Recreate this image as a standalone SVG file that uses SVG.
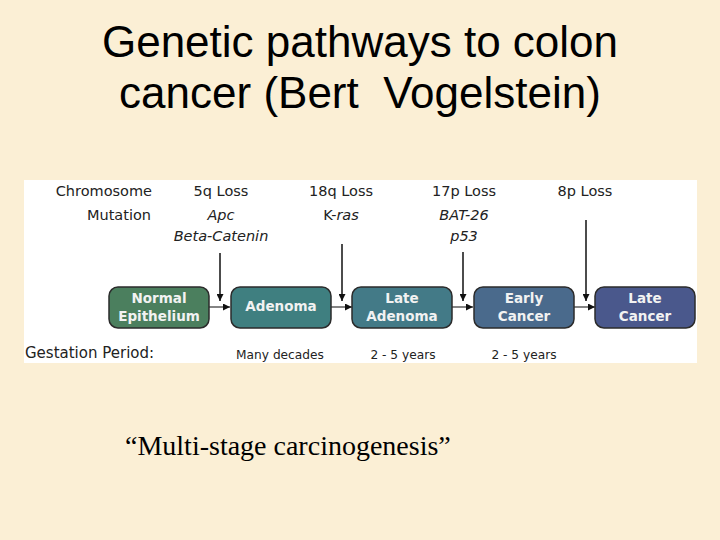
<svg xmlns="http://www.w3.org/2000/svg" width="720" height="540" viewBox="0 0 720 540">
<defs>
<marker id="ah" viewBox="0 0 10 10" refX="10" refY="5" markerWidth="7" markerHeight="7" markerUnits="userSpaceOnUse" orient="auto"><path d="M0,0 L10,5 L0,10 z" fill="#111"/></marker>
</defs>
<style>
.title{font-family:"Liberation Sans",Arial,sans-serif;font-size:44px;fill:#000;text-anchor:middle;white-space:pre}
.lab{font-family:"DejaVu Sans",Verdana,sans-serif;font-size:14.5px;fill:#222}
.it{font-style:italic}
.mid{text-anchor:middle}
.end{text-anchor:end}
.box{stroke:#2b2b2b;stroke-width:1.5}
.bt{font-family:"DejaVu Sans",Verdana,sans-serif;font-size:13.5px;font-weight:bold;fill:#f2f2f2;text-anchor:middle}
.small{font-family:"DejaVu Sans",Verdana,sans-serif;font-size:12.2px;fill:#222;text-anchor:middle}
.conn{stroke:#111;stroke-width:1.5;fill:none}
.hconn{stroke:#333;stroke-width:1.2;fill:none}
</style>
<rect width="720" height="540" fill="#fbefd5"/>
<text class="title" x="360" y="57">Genetic pathways to colon</text>
<text class="title" x="360" y="108" xml:space="preserve">cancer (Bert  Vogelstein)</text>
<rect x="24" y="180" width="673" height="183" fill="#ffffff"/>
<g id="labels">
<text class="lab end" x="152" y="196">Chromosome</text>
<text class="lab end" x="151" y="220">Mutation</text>
<text class="lab mid" x="221" y="196">5q Loss</text>
<text class="lab mid it" x="221" y="220">Apc</text>
<text class="lab mid it" x="221" y="241">Beta-Catenin</text>
<text class="lab mid" x="341" y="196">18q Loss</text>
<text class="lab mid" x="341" y="220">K-<tspan class="it">ras</tspan></text>
<text class="lab mid" x="464" y="196">17p Loss</text>
<text class="lab mid it" x="464" y="220">BAT-26</text>
<text class="lab mid it" x="464" y="241">p53</text>
<text class="lab mid" x="585" y="196">8p Loss</text>
</g>
<g id="connectors">
<line class="conn" x1="220" y1="253" x2="220" y2="301" marker-end="url(#ah)"/>
<line class="conn" x1="342" y1="244" x2="342" y2="301" marker-end="url(#ah)"/>
<line class="conn" x1="463" y1="252" x2="463" y2="301" marker-end="url(#ah)"/>
<line class="conn" x1="586" y1="220" x2="586" y2="301" marker-end="url(#ah)"/>
<line class="hconn" x1="209" y1="307" x2="230" y2="307" marker-end="url(#ah)"/>
<line class="hconn" x1="331" y1="307" x2="352" y2="307" marker-end="url(#ah)"/>
<line class="hconn" x1="452" y1="307" x2="473" y2="307" marker-end="url(#ah)"/>
<line class="hconn" x1="574" y1="307" x2="595" y2="307" marker-end="url(#ah)"/>
</g>
<g id="normal">
<rect class="box" x="109" y="287" width="100" height="41" rx="9" fill="#4b7f5e"/>
<text class="bt" x="159" y="303">Normal</text>
<text class="bt" x="159" y="321">Epithelium</text>
</g>
<g id="adenoma">
<rect class="box" x="231" y="287" width="100" height="41" rx="9" fill="#3f7f80"/>
<text class="bt" x="281" y="311">Adenoma</text>
</g>
<g id="late-adenoma">
<rect class="box" x="352" y="287" width="100" height="41" rx="9" fill="#437a87"/>
<text class="bt" x="402" y="303">Late</text>
<text class="bt" x="402" y="321">Adenoma</text>
</g>
<g id="early-cancer">
<rect class="box" x="474" y="287" width="100" height="41" rx="9" fill="#4a6a8c"/>
<text class="bt" x="524" y="303">Early</text>
<text class="bt" x="524" y="321">Cancer</text>
</g>
<g id="late-cancer">
<rect class="box" x="595" y="287" width="100" height="41" rx="9" fill="#4a588c"/>
<text class="bt" x="645" y="303">Late</text>
<text class="bt" x="645" y="321">Cancer</text>
</g>
<g id="gestation">
<text class="lab" x="25" y="358" style="font-size:15px">Gestation Period:</text>
<text class="small" x="280" y="359">Many decades</text>
<text class="small" x="403" y="359">2 - 5 years</text>
<text class="small" x="524" y="359">2 - 5 years</text>
</g>
<text x="125" y="455" style="font-family:'Liberation Serif','Times New Roman',serif;font-size:28px;fill:#000">“Multi-stage carcinogenesis”</text>
</svg>
